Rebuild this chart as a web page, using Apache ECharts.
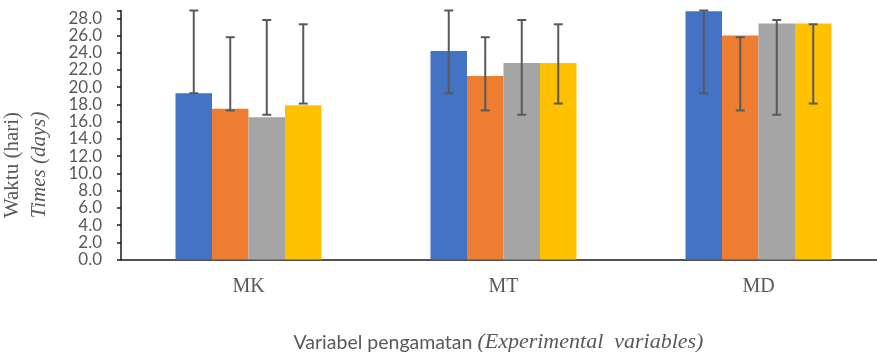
<!DOCTYPE html>
<html>
<head>
<meta charset="utf-8">
<script src="https://cdn.jsdelivr.net/npm/echarts@6/dist/echarts.min.js"></script>
<style>
  html, body { margin: 0; padding: 0; background: #fff; }
  #chart { width: 877px; height: 352px; }
</style>
</head>
<body>
<div id="chart"></div>
<script>
// data
var categories = ['MK', 'MT', 'MD']
var seriesNames = ['Seri 1', 'Seri 2', 'Seri 3', 'Seri 4']
var blueVals = [19.3, 24.2, 28.8]
var orangeVals = [17.5, 21.3, 26.0]
var greyVals = [16.5, 22.8, 27.4]
var yellowVals = [17.9, 22.8, 27.4]
// error bar ends (low / high), same range for each colour in every group
var blueErrLow = [19.3, 19.3, 19.3]
var blueErrHigh = [28.9, 28.9, 28.9]
var orangeErrLow = [17.3, 17.3, 17.3]
var orangeErrHigh = [25.8, 25.8, 25.8]
var greyErrLow = [16.8, 16.8, 16.8]
var greyErrHigh = [27.8, 27.8, 27.8]
var yellowErrLow = [18.1, 18.1, 18.1]
var yellowErrHigh = [27.3, 27.3, 27.3]

var colors = ['#4472C4', '#ED7D31', '#A5A5A5', '#FFC000']
var barW = 36.5

var chart = echarts.init(document.getElementById('chart'))

function barSeries(name, data, color) {
  return {
    name: name,
    type: 'bar',
    data: data,
    barWidth: barW,
    barGap: '0%',
    itemStyle: { color: color },
    silent: true
  }
}

function errSeries(idx, low, high) {
  var data = categories.map(function (c, i) { return [i, low[i], high[i]] })
  return {
    type: 'custom',
    data: data,
    z: 10,
    silent: true,
    renderItem: function (params, api) {
      var ci = api.value(0)
      var lo = api.coord([ci, api.value(1)])
      var hi = api.coord([ci, api.value(2)])
      var x = lo[0] + (idx - 1.5) * barW
      var cap = 4.5
      var st = { stroke: '#595959', lineWidth: 2 }
      return {
        type: 'group',
        children: [
          { type: 'line', shape: { x1: x, y1: lo[1], x2: x, y2: hi[1] }, style: st },
          { type: 'line', shape: { x1: x - cap, y1: lo[1], x2: x + cap, y2: lo[1] }, style: st },
          { type: 'line', shape: { x1: x - cap, y1: hi[1], x2: x + cap, y2: hi[1] }, style: st }
        ]
      }
    }
  }
}

var option = {
  backgroundColor: '#ffffff',
  animation: false,
  grid: {
    left: 121, width: 765, top: 10.5, bottom: 92.5,
    containLabel: false, outerBoundsMode: 'none'
  },
  xAxis: {
    type: 'category',
    data: categories,
    axisLine: { lineStyle: { color: '#1a1a1a', width: 1.5 } },
    axisTick: { show: false },
    axisLabel: {
      margin: 17,
      fontFamily: 'Liberation Serif',
      fontSize: 20,
      color: '#595959'
    },
    name: '{a|Variabel pengamatan }{b|(Experimental  variables)}',
    nameLocation: 'middle',
    nameGap: 72,
    nameTextStyle: {
      padding: [0, 10, 0, 0],
      rich: {
        a: { fontFamily: 'Lato', fontSize: 19.5, color: '#595959' },
        b: { fontFamily: 'Liberation Serif', fontStyle: 'italic', fontSize: 22, color: '#595959' }
      }
    }
  },
  yAxis: {
    type: 'value',
    min: 0,
    max: 28.9,
    interval: 2,
    splitLine: { show: false },
    axisLine: { show: true, lineStyle: { color: '#1a1a1a', width: 1.5 } },
    axisTick: { show: true, length: 4, lineStyle: { color: '#1a1a1a', width: 1.5 } },
    axisLabel: {
      margin: 19,
      fontFamily: 'Lato',
      fontSize: 17,
      color: '#595959',
      formatter: function (v) {
        return Math.abs(v - Math.round(v / 2) * 2) < 1e-6 ? v.toFixed(1) : ''
      }
    },
    name: '{a|Waktu (hari)}\n{b|Times (days)}',
    nameLocation: 'middle',
    nameRotate: 90,
    nameGap: 68,
    nameTextStyle: {
      padding: [0, 60, 0, 0],
      rich: {
        a: { fontFamily: 'Liberation Serif', fontSize: 21, color: '#595959', lineHeight: 27 },
        b: { fontFamily: 'Liberation Serif', fontStyle: 'italic', fontSize: 21, color: '#595959', lineHeight: 27 }
      }
    }
  },
  series: [
    barSeries(seriesNames[0], blueVals, colors[0]),
    barSeries(seriesNames[1], orangeVals, colors[1]),
    barSeries(seriesNames[2], greyVals, colors[2]),
    barSeries(seriesNames[3], yellowVals, colors[3]),
    errSeries(0, blueErrLow, blueErrHigh),
    errSeries(1, orangeErrLow, orangeErrHigh),
    errSeries(2, greyErrLow, greyErrHigh),
    errSeries(3, yellowErrLow, yellowErrHigh)
  ]
}

chart.setOption(option)
</script>
</body>
</html>
